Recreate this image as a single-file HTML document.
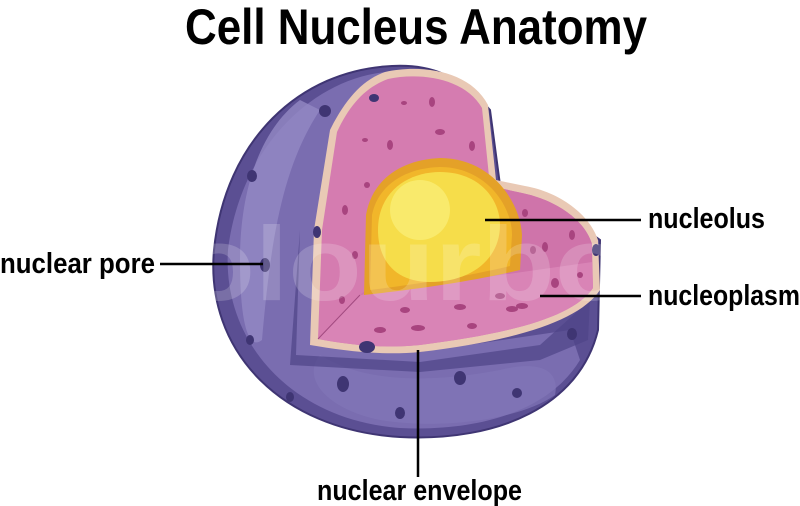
<!DOCTYPE html>
<html><head><meta charset="utf-8"><style>
html,body{margin:0;padding:0;background:#fff;}
svg{display:block;}
text{font-family:"Liberation Sans",sans-serif;font-weight:bold;fill:#000;}
</style></head><body>
<svg width="800" height="506" viewBox="0 0 800 506" xmlns="http://www.w3.org/2000/svg">
<text x="185" y="44" font-size="50" textLength="462" lengthAdjust="spacingAndGlyphs">Cell Nucleus Anatomy</text>

<path d="M392,66 C300,70 225,140 214,250 C205,350 280,430 400,437 C500,442 580,405 598,330 L600,240 L530,190 L500,185 L490,110 C460,75 430,64 392,66 Z" fill="#5b4f93" stroke="#3f3573" stroke-width="2"/>
<path d="M385,72 C310,80 240,150 228,250 C222,340 290,420 400,428 C480,432 550,410 580,360 L570,330 L420,352 L310,345 L318,230 L330,130 Z" fill="#7a6db0"/>
<path d="M300,100 C260,130 240,190 240,260 C240,330 250,350 262,340 C270,250 280,170 320,110 Z" fill="#9488c4" opacity="0.8"/>
<path d="M320,355 C360,380 420,385 500,370 C540,360 560,370 555,395 C520,420 440,430 380,420 C330,410 300,380 320,355 Z" fill="#8276b8" opacity="0.7"/>
<path d="M300,230 L296,355 L420,362 L540,345 L590,300 L588,340 L540,360 L420,372 L290,365 Z" fill="#4f4488" opacity="0.7"/>
<g fill="#3f3573">
<ellipse cx="265" cy="265" rx="5" ry="7"/><ellipse cx="252" cy="176" rx="5" ry="6"/><ellipse cx="325" cy="111" rx="6" ry="6"/>
<ellipse cx="250" cy="340" rx="4" ry="5"/><ellipse cx="343" cy="384" rx="6" ry="8"/><ellipse cx="400" cy="413" rx="5" ry="6"/>
<ellipse cx="460" cy="378" rx="6" ry="7"/><ellipse cx="517" cy="393" rx="5" ry="5"/><ellipse cx="572" cy="334" rx="5" ry="6"/>
<ellipse cx="290" cy="397" rx="4" ry="5"/>
</g>
<path d="M385,72 C420,64 470,70 488,105 L496,180 L525,186 C560,192 590,215 598,240 L600,290 C580,320 520,340 420,352 C380,356 340,350 310,345 L314,230 L330,130 C345,100 362,80 385,72 Z" fill="#e9c9b5"/>
<path d="M388,79 C420,72 465,78 482,108 L490,186 L522,193 C556,200 585,220 592,244 L593,288 C574,316 515,333 420,345 C380,349 345,344 318,339 L322,230 L337,132 C350,104 366,87 388,79 Z" fill="#d57cb0"/>
<path d="M360,295 L592,262 L593,288 C574,316 515,333 420,345 C380,349 345,344 318,339 Z" fill="#d984b6"/>
<path d="M360,295 L490,186 L522,193 C556,200 585,220 592,244 L592,262 Z" fill="#cf74aa"/>
<line x1="360" y1="295" x2="318" y2="339" stroke="#a24a80" stroke-width="1"/>
<path d="M364,295 L366,215 C372,180 400,160 440,158 C490,158 520,200 522,235 L520,270 C470,282 410,290 364,295 Z" fill="#e4a128"/>
<path d="M370,290 L372,215 C378,185 405,168 440,167 C485,167 512,205 512,235 L510,266 C465,277 410,285 370,290 Z" fill="#f1b62a"/>
<path d="M378,230 C378,190 410,172 440,172 C480,172 500,200 500,225 C500,260 470,282 430,282 C395,282 378,260 378,230 Z" fill="#f6dd4a"/>
<ellipse cx="420" cy="210" rx="30" ry="30" fill="#f9ea6c"/>
<g fill="#a8447f">
<ellipse cx="432" cy="102" rx="3" ry="5"/><ellipse cx="404" cy="103" rx="3" ry="2"/><ellipse cx="440" cy="132" rx="5" ry="3"/>
<ellipse cx="390" cy="145" rx="3" ry="5"/><ellipse cx="365" cy="140" rx="3" ry="2"/><ellipse cx="472" cy="146" rx="3" ry="5"/>
<ellipse cx="367" cy="185" rx="3" ry="3"/><ellipse cx="345" cy="210" rx="3" ry="5"/><ellipse cx="355" cy="255" rx="3" ry="4"/>
<ellipse cx="342" cy="300" rx="3" ry="4"/><ellipse cx="380" cy="330" rx="6" ry="3"/><ellipse cx="405" cy="310" rx="5" ry="3"/>
<ellipse cx="418" cy="328" rx="7" ry="3"/><ellipse cx="460" cy="307" rx="6" ry="3"/><ellipse cx="472" cy="326" rx="5" ry="3"/>
<ellipse cx="512" cy="309" rx="6" ry="3"/><ellipse cx="500" cy="296" rx="5" ry="3"/><ellipse cx="522" cy="306" rx="6" ry="3"/>
<ellipse cx="545" cy="247" rx="3" ry="5"/><ellipse cx="572" cy="235" rx="3" ry="5"/><ellipse cx="555" cy="283" rx="4" ry="5"/>
<ellipse cx="533" cy="250" rx="3" ry="4"/><ellipse cx="580" cy="275" rx="3" ry="3"/><ellipse cx="525" cy="213" rx="3" ry="4"/>
</g>
<g fill="#3f3573">
<ellipse cx="367" cy="347" rx="8" ry="6"/><ellipse cx="374" cy="98" rx="5" ry="4"/><ellipse cx="317" cy="232" rx="4" ry="6"/><ellipse cx="596" cy="250" rx="4" ry="6"/>
</g>
<text x="95" y="300" font-size="105" style="fill:#ffffff;opacity:0.18" textLength="600" lengthAdjust="spacingAndGlyphs">Colourbox</text>
<g stroke="#000" stroke-width="2.5">
<line x1="160" y1="264" x2="263" y2="264"/>
<line x1="485" y1="220" x2="641" y2="220"/>
<line x1="540" y1="296" x2="641" y2="296"/>
<line x1="418" y1="350" x2="418" y2="477"/>
</g>
<text x="0" y="273" font-size="29" textLength="155" lengthAdjust="spacingAndGlyphs">nuclear pore</text>
<text x="648" y="228" font-size="29" textLength="117" lengthAdjust="spacingAndGlyphs">nucleolus</text>
<text x="648" y="305" font-size="29" textLength="152" lengthAdjust="spacingAndGlyphs">nucleoplasm</text>
<text x="317" y="500" font-size="29" textLength="205" lengthAdjust="spacingAndGlyphs">nuclear envelope</text>
</svg>
</body></html>
